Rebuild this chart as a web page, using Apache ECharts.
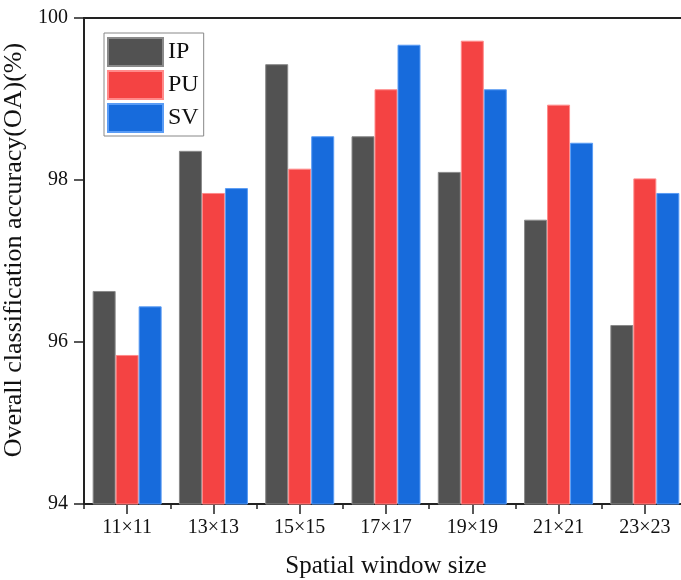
<!DOCTYPE html>
<html>
<head>
<meta charset="utf-8">
<script src="https://cdn.jsdelivr.net/npm/echarts@6/dist/echarts.min.js"></script>
<style>
  html, body { margin: 0; padding: 0; background: #fff; overflow: hidden; }
  #chart { width: 688px; height: 580px; }
</style>
</head>
<body>
<div id="chart"></div>
<script>
const categories = ['11×11', '13×13', '15×15', '17×17', '19×19', '21×21', '23×23'];
const ipValues = [96.63, 98.36, 99.43, 98.54, 98.10, 97.51, 96.21];
const puValues = [95.84, 97.84, 98.14, 99.12, 99.72, 98.93, 98.02];
const svValues = [96.44, 97.90, 98.54, 99.67, 99.12, 98.46, 97.84];
const yTicks = [94, 96, 98, 100];

const serif = 'Liberation Serif';

function barSeries(name, data, color, border) {
  return {
    name: name,
    type: 'bar',
    data: data,
    barWidth: 23,
    barGap: '0%',
    itemStyle: { color: color, borderColor: border, borderWidth: 1 }
  };
}

// the plot is wider than the window: its right edge falls just off the picture
const chart = echarts.init(document.getElementById('chart'));
chart.setOption({
  animation: false,
  grid: {
    left: 84, top: 18, right: 0, bottom: 76,
    outerBoundsMode: 'none',
    show: true, borderColor: '#222', borderWidth: 2
  },
  legend: {
    orient: 'vertical',
    left: 104, top: 33,
    itemWidth: 55, itemHeight: 28, itemGap: 3,
    padding: [4, 5, 3, 3],
    borderColor: '#888', borderWidth: 1,
    icon: 'rect',
    textStyle: { fontFamily: serif, fontSize: 24, color: '#111' },
    data: ['IP', 'PU', 'SV']
  },
  xAxis: [{
    type: 'category',
    data: categories,
    name: 'Spatial window size',
    nameLocation: 'middle',
    nameGap: 50,
    nameTextStyle: { fontFamily: serif, fontSize: 25, color: '#111' },
    axisLine: { lineStyle: { color: '#222', width: 2 } },
    axisTick: { show: true, length: 5, lineStyle: { color: '#222', width: 1.5 } },
    axisLabel: { fontFamily: serif, fontSize: 20, color: '#111', margin: 14 }
  }, {
    type: 'category',
    data: categories,
    position: 'bottom',
    axisLine: { show: false },
    axisTick: { show: true, alignWithLabel: true, length: 10, lineStyle: { color: '#222', width: 1.5 } },
    axisLabel: { show: false }
  }],
  yAxis: {
    type: 'value',
    min: 94, max: 100, interval: 2,
    name: 'Overall classification accuracy(OA)(%)',
    nameLocation: 'middle',
    nameGap: 52,
    nameTextStyle: { fontFamily: serif, fontSize: 26, color: '#111', padding: [0, 0, 0, 22] },
    axisLine: { show: true, lineStyle: { color: '#222', width: 2 } },
    axisTick: { show: true, length: 10, lineStyle: { color: '#222', width: 1.5 } },
    splitLine: { show: false },
    axisLabel: {
      fontFamily: serif, fontSize: 20, color: '#111', margin: 16,
      formatter: v => (yTicks.includes(v) ? String(v) : '')
    }
  },
  series: [
    barSeries('IP', ipValues, '#525252', '#8a8a8a'),
    barSeries('PU', puValues, '#F44343', '#ff8a8a'),
    barSeries('SV', svValues, '#176BDC', '#5a9cf5')
  ]
});
</script>
</body>
</html>
